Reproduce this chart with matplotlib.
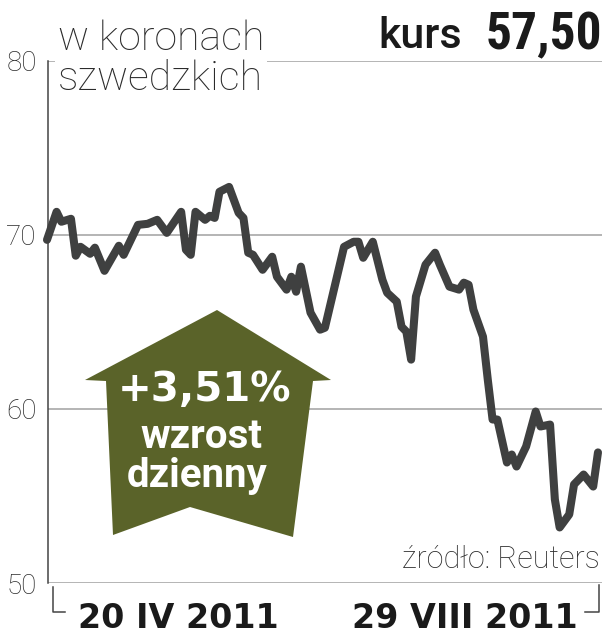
import matplotlib
matplotlib.use("Agg")
import matplotlib.pyplot as plt
from matplotlib.patches import Polygon
from matplotlib.lines import Line2D

# trading day index and price (SEK)
days = [0, 2, 3, 5, 6, 7, 9, 10, 12, 15, 16, 19, 21, 23, 25, 28, 29, 30, 31, 33,
        34, 35, 36, 38, 40, 41, 42, 43, 45, 47, 48, 50, 51, 52, 53, 55, 57, 58, 62, 64,
        65, 66, 68, 70, 71, 73, 74, 75, 76, 77, 79, 81, 82, 84, 86, 87, 88, 89, 91, 92,
        93, 94, 96, 97, 98, 100, 102, 103, 105, 106, 107, 109, 110, 112, 114, 115]
prices = [69.71, 71.32, 70.75, 70.92, 68.80, 69.31, 68.91, 69.26, 67.93, 69.37,
          68.85, 70.57, 70.63, 70.86, 70.11, 71.32, 69.14, 68.85, 71.32, 70.86,
          71.09, 70.97, 72.47, 72.75, 71.26, 70.97, 68.97, 68.85, 67.99, 68.74,
          67.59, 66.85, 67.59, 66.73, 68.17, 65.53, 64.55, 64.66, 69.31, 69.60,
          69.60, 68.68, 69.60, 67.42, 66.67, 66.16, 64.72, 64.44, 62.83, 66.45,
          68.28, 68.97, 68.28, 67.02, 66.85, 67.25, 67.13, 65.70, 64.15, 61.68,
          59.39, 59.39, 56.92, 57.38, 56.69, 57.84, 59.85, 58.99, 59.10, 54.80,
          53.19, 53.94, 55.66, 56.23, 55.54, 57.50]

y_ticks = [50, 60, 70, 80]
date_labels = ["20 IV 2011", "29 VIII 2011"]
unit_label = "w koronach\nszwedzkich"
last_price = "57,50"
change_label = "+3,51%"
change_words = "wzrost\ndzienny"
source = "źródło: Reuters"

W, H = 604, 640
LINE = "#3f4040"
GRID = "#a8a8a8"
OLIVE = "#5a6329"
TXT = "#2b2b2b"


def fx(px):
    return px / W


def fy(py):
    return 1 - py / H


fig = plt.figure(figsize=(W / 100, H / 100), dpi=100)
ax = fig.add_axes([fx(48), fy(583), fx(602 - 48), (583 - 60.7) / H])

for v in y_ticks:
    ax.axhline(v, color=GRID, lw=1.2, zorder=1)
ax.plot(days, prices, color=LINE, lw=5.8, solid_joinstyle="round",
        solid_capstyle="round", clip_on=False, zorder=3)

ax.set_xlim(0.21, 115.84)
ax.set_ylim(50, 80)
ax.set_xticks([])
ax.set_yticks(y_ticks)
ax.set_yticklabels([str(v) for v in y_ticks], family="Roboto", weight="light",
                   fontsize=20, color=TXT)
ax.tick_params(axis="y", length=0, pad=8)
for s in ["top", "right", "bottom"]:
    ax.spines[s].set_visible(False)
ax.spines["left"].set_color("#444444")
ax.spines["left"].set_linewidth(1.1)

# header texts (baseline given for the last line)
fig.text(fx(58), fy(90), unit_label, family="Roboto", weight="light",
         fontsize=29.5, color=TXT, ha="left", va="baseline", linespacing=1.05,
         bbox=dict(facecolor="white", edgecolor="none", pad=2))
fig.text(fx(378), fy(48), "kurs", family="Roboto", weight="medium",
         fontsize=31, color="#1a1a1a", ha="left", va="baseline")
fig.text(fx(602), fy(49), last_price, family="Roboto Condensed", weight="bold",
         fontsize=37, color="#1a1a1a", ha="right", va="baseline")

# green arrow with the daily change
arrow_px = [(217, 310), (331, 380), (313, 381), (293, 537), (190, 507),
            (113, 535), (106, 381), (85, 380)]
fig.patches.append(Polygon([(fx(x), fy(y)) for x, y in arrow_px], closed=True,
                           facecolor=OLIVE, edgecolor="none",
                           transform=fig.transFigure, zorder=5))
fig.text(fx(205), fy(401), change_label, family="DejaVu Sans", weight="bold",
         fontsize=29, color="white", ha="center", va="baseline", zorder=6)
w1, w2 = change_words.split("\n")
fig.text(fx(201), fy(448), w1, family="Roboto", weight="bold",
         fontsize=29, color="white", ha="center", va="baseline", zorder=6)
fig.text(fx(197), fy(487), w2, family="Roboto", weight="bold",
         fontsize=29, color="white", ha="center", va="baseline", zorder=6)

fig.text(fx(600), fy(568), source, family="Roboto", weight="light",
         fontsize=22, color=TXT, ha="right", va="baseline")

# date range under the axis
fig.text(fx(78), fy(628), date_labels[0], family="DejaVu Sans", weight="bold",
         fontsize=24, color="#1a1a1a", ha="left", va="baseline")
fig.text(fx(578), fy(628), date_labels[1], family="DejaVu Sans", weight="bold",
         fontsize=24, color="#1a1a1a", ha="right", va="baseline")
for xs, ys in [([53, 53, 65], [587, 612, 612]), ([585, 599, 599], [612, 612, 585])]:
    fig.lines.append(Line2D([fx(x) for x in xs], [fy(y) for y in ys],
                            color="#444444", lw=1.1, transform=fig.transFigure))

fig.savefig("out.png", dpi=100, facecolor="white")
